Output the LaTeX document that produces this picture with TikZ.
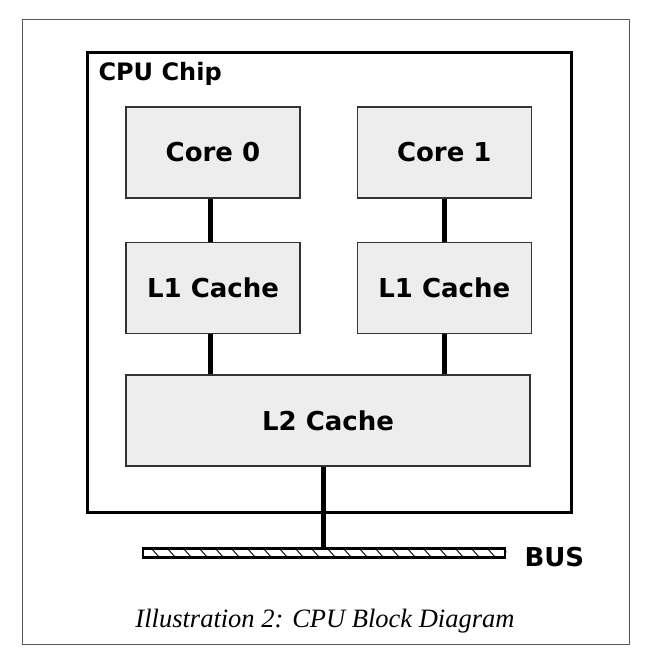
\documentclass[tikz,border=0pt]{standalone}
\usepackage{fontspec}
\setmainfont{DejaVu Sans}
\newfontfamily\captionfont{Liberation Serif}
\usepackage{xcolor}
\usetikzlibrary{positioning}

\definecolor{boxfill}{HTML}{EDEDED}
\definecolor{boxline}{HTML}{333333}
\definecolor{framegray}{HTML}{555555}

\begin{document}
\begin{tikzpicture}[
  x=1pt, y=-1pt,
  node distance=43pt and 56pt,
  unit/.style={draw=boxline, line width=1.3pt, fill=boxfill, align=center,
    minimum width=174pt, minimum height=91pt, inner sep=0pt,
    font=\fontsize{26}{30}\selectfont\bfseries},
  link/.style={line width=5pt},
  hatch/.style={line width=0.9pt}
]
\useasboundingbox (0,0) rectangle (648,656);
% outer frame and chip
\draw[framegray, line width=1pt] (22,19) rectangle (629,644);
\draw[line width=3pt] (87,52) rectangle (571,512);
\node[anchor=west, font=\fontsize{24}{28}\selectfont\bfseries] (chip) at (95,74) {CPU Chip};

\node[unit] (core0) at (213,152.5) {Core 0};
\node[unit, right=of core0] (core1) {Core 1};
\node[unit, below=of core0] (l1a) {L1 Cache};
\node[unit, below=of core1] (l1b) {L1 Cache};
\node[unit, minimum width=404pt] (l2) at (328,420.5) {L2 Cache};

% bus
\node[draw, line width=2.5pt, minimum width=362pt, minimum height=9pt,
  inner sep=0pt] (bus) at (324,553) {};
\begin{scope}
  \clip (bus.south west) rectangle (bus.north east);
  \foreach \x in {135,151,...,511}
    \draw[hatch] (\x,548) -- ++(9,10);
\end{scope}
\node[anchor=west, font=\fontsize{26}{30}\selectfont\bfseries] (buslabel)
  at (521,557) {BUS};

\draw[link] ([xshift=-3pt]core0.south) -- ([xshift=-3pt]l1a.north);
\draw[link] ([xshift=-3pt]l1a.south) -- ([xshift=-3pt]l1a.south |- l2.north);
\draw[link] (core1.south) -- (l1b.north);
\draw[link] (l1b.south) -- (l1b.south |- l2.north);
\draw[link] ([xshift=-5pt]l2.south) -- ([xshift=-5pt]l2.south |- bus.north);

\node[font=\captionfont\itshape\fontsize{26.5}{30}\selectfont] (caption)
  at (325,621) {Illustration 2: CPU Block Diagram};
\end{tikzpicture}
\end{document}
